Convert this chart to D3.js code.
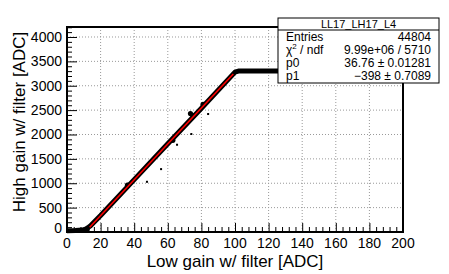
<!DOCTYPE html>
<html>
<head>
<meta charset="utf-8">
<script src="https://cdn.jsdelivr.net/npm/d3@7"></script>
<style>
body { margin: 0; background: #fff; }
text { font-family: "Liberation Sans", Arial, Helvetica, sans-serif; fill: #000; }
</style>
</head>
<body>
<div id="chart"></div>
<script>
// band of points (centre line)
var bandX = [0, 5, 9, 11, 12.5, 14, 20, 40, 60, 80, 100, 102, 200];
var bandY = [25, 30, 40, 60, 90, 130, 340, 1075, 1810, 2540, 3280, 3300, 3300];

// clumps sitting on the band
var clumpX = [73.5, 75, 81, 63, 36, 12];
var clumpY = [2430, 2390, 2620, 1880, 960, 50];

// isolated points
var outX = [47.6, 56, 74, 84, 65.5];
var outY = [1030, 1290, 2010, 2420, 1790];

// fit: pol1
var p0 = 36.76, p1 = -398;
var fitRange = [13.5, 99];

var xTicks = [0, 20, 40, 60, 80, 100, 120, 140, 160, 180, 200];
var yTicks = [0, 500, 1000, 1500, 2000, 2500, 3000, 3500, 4000];

var statsTitle = "LL17_LH17_L4";
var statsLabels = ["Entries", "χ2 / ndf", "p0", "p1"];
var statsValues = ["44804", "9.99e+06 / 5710", "36.76 ± 0.01281", "\u2212398 ± 0.7089"];

var width = 449, height = 274;
var fL = 67, fR = 403, fT = 27, fB = 232;

var svg = d3.select("#chart").append("svg")
  .attr("width", width)
  .attr("height", height);

var x = d3.scaleLinear().domain([0, 200]).range([fL, fR]);
var y = d3.scaleLinear().domain([0, 4205]).range([fB, fT]);

// grid
var grid = svg.append("g").attr("class", "grid");
grid.selectAll("line.gx")
  .data(xTicks.slice(1, -1))
  .enter().append("line")
  .attr("x1", function (d) { return x(d); })
  .attr("x2", function (d) { return x(d); })
  .attr("y1", fT)
  .attr("y2", fB)
  .attr("stroke", "#999")
  .attr("stroke-width", 1)
  .attr("stroke-dasharray", "1,2");
grid.selectAll("line.gy")
  .data(yTicks.slice(1))
  .enter().append("line")
  .attr("x1", fL)
  .attr("x2", fR)
  .attr("y1", function (d) { return y(d); })
  .attr("y2", function (d) { return y(d); })
  .attr("stroke", "#999")
  .attr("stroke-width", 1)
  .attr("stroke-dasharray", "1,2");

// data band
var band = d3.line()
  .x(function (d) { return x(d[0]); })
  .y(function (d) { return y(d[1]); });

svg.append("path")
  .attr("d", band(d3.zip(bandX, bandY)))
  .attr("fill", "none")
  .attr("stroke", "#000")
  .attr("stroke-width", 5)
  .attr("stroke-linejoin", "round");

svg.selectAll("circle.clump")
  .data(d3.zip(clumpX, clumpY))
  .enter().append("circle")
  .attr("cx", function (d) { return x(d[0]); })
  .attr("cy", function (d) { return y(d[1]); })
  .attr("r", 2.6)
  .attr("fill", "#000");

svg.selectAll("rect.out")
  .data(d3.zip(outX, outY))
  .enter().append("rect")
  .attr("x", function (d) { return x(d[0]) - 1; })
  .attr("y", function (d) { return y(d[1]) - 1; })
  .attr("width", 2)
  .attr("height", 2)
  .attr("fill", "#000");

// fit line
svg.append("line")
  .attr("x1", x(fitRange[0]))
  .attr("y1", y(p0 * fitRange[0] + p1))
  .attr("x2", x(fitRange[1]))
  .attr("y2", y(p0 * fitRange[1] + p1))
  .attr("stroke", "#ff0000")
  .attr("stroke-width", 1.6);

// axes, ticks inside the frame
var xAxis = d3.axisBottom(x)
  .tickValues(d3.range(0, 201, 4))
  .tickSize(0)
  .tickFormat("");
var gx = svg.append("g").attr("transform", "translate(0," + fB + ")");
gx.call(xAxis);
gx.selectAll(".tick line")
  .attr("y2", function (d) { return d % 20 === 0 ? -9 : -5; })
  .attr("stroke", "#000");
gx.select(".domain").remove();
gx.selectAll("text.lab")
  .data(xTicks)
  .enter().append("text")
  .attr("class", "lab")
  .attr("x", function (d) { return x(d); })
  .attr("y", 16)
  .attr("fill", "#000")
  .attr("text-anchor", "middle")
  .attr("font-size", 14)
  .text(function (d) { return d; });

var yAxis = d3.axisLeft(y)
  .tickValues(d3.range(0, 4201, 100))
  .tickSize(0)
  .tickFormat("");
var gy = svg.append("g").attr("transform", "translate(" + fL + ",0)");
gy.call(yAxis);
gy.selectAll(".tick line")
  .attr("x2", function (d) { return d % 500 === 0 ? 10 : 5; })
  .attr("stroke", "#000");
gy.select(".domain").remove();
gy.selectAll("text.lab")
  .data(yTicks)
  .enter().append("text")
  .attr("class", "lab")
  .attr("x", -5)
  .attr("y", function (d) { return y(d) + (d === 0 ? 1 : 5); })
  .attr("fill", "#000")
  .attr("text-anchor", "end")
  .attr("font-size", 14)
  .text(function (d) { return d; });

// frame
svg.append("rect")
  .attr("x", fL)
  .attr("y", fT)
  .attr("width", fR - fL)
  .attr("height", fB - fT)
  .attr("fill", "none")
  .attr("stroke", "#000")
  .attr("stroke-width", 2);

// axis titles
svg.append("text")
  .attr("x", (fL + fR) / 2)
  .attr("y", 267)
  .attr("text-anchor", "middle")
  .attr("font-size", 17)
  .text("Low gain w/ filter [ADC]");

svg.append("text")
  .attr("transform", "translate(25,122) rotate(-90)")
  .attr("text-anchor", "middle")
  .attr("font-size", 17)
  .text("High gain w/ filter [ADC]");

// stats box
var bx = 278, by = 18, bw = 161, bh = 65, titleH = 12;
var stats = svg.append("g");
stats.append("rect")
  .attr("x", bx)
  .attr("y", by)
  .attr("width", bw)
  .attr("height", bh)
  .attr("fill", "#fff")
  .attr("stroke", "#000")
  .attr("stroke-width", 1);
stats.append("line")
  .attr("x1", bx)
  .attr("x2", bx + bw)
  .attr("y1", by + titleH)
  .attr("y2", by + titleH)
  .attr("stroke", "#000");
stats.append("text")
  .attr("x", bx + bw / 2)
  .attr("y", by + 10)
  .attr("text-anchor", "middle")
  .attr("font-size", 11)
  .text(statsTitle);

var rowH = (bh - titleH) / statsLabels.length;
statsLabels.forEach(function (lab, i) {
  var yy = by + titleH + rowH * i + rowH / 2 + 4;
  var t = stats.append("text")
    .attr("x", bx + 8)
    .attr("y", yy)
    .attr("font-size", 12);
  if (lab.indexOf("χ2") === 0) {
    t.append("tspan").text("χ");
    t.append("tspan").attr("dy", -5).attr("font-size", 8).text("2");
    t.append("tspan").attr("dy", 5).text(" / ndf");
  } else {
    t.text(lab);
  }
  stats.append("text")
    .attr("x", bx + bw - 8)
    .attr("y", yy)
    .attr("text-anchor", "end")
    .attr("font-size", 12)
    .text(statsValues[i]);
});
</script>
</body>
</html>
